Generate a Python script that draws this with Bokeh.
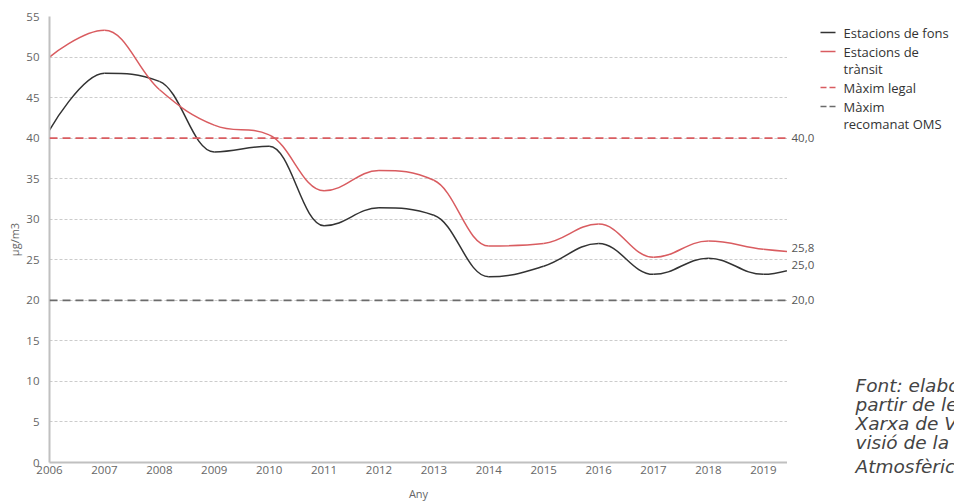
from bokeh.plotting import figure
from bokeh.layouts import row
from bokeh.models import Range1d, FixedTicker, Span, CustomJSTickFormatter, ColumnDataSource
from bokeh.core.properties import value
from bokeh.embed import file_html
from bokeh.resources import INLINE

# ---------------- data ----------------
years = [2006, 2007, 2008, 2009, 2010, 2011, 2012, 2013, 2014, 2015, 2016, 2017, 2018, 2019, 2020]
fons = [41.0, 48.0, 47.0, 38.3, 39.0, 29.2, 31.4, 30.5, 22.9, 24.2, 27.0, 23.2, 25.2, 23.2, 25.0]
transit = [50.0, 53.3, 46.0, 41.6, 40.4, 33.5, 36.0, 34.8, 26.7, 27.0, 29.4, 25.3, 27.3, 26.3, 25.8]
x_ticks = list(range(2006, 2020))
y_ticks = [0, 5, 10, 15, 20, 25, 30, 35, 40, 45, 50, 55]
max_legal = 40.0
max_oms = 20.0
legend_lines = ["Estacions de fons", "Estacions de", "trànsit", "Màxim legal", "Màxim", "recomanat OMS"]
source_lines = ["Font: elaboració pròpia a", "partir de les dades de la",
                "Xarxa de Vigilància i Pre-", "visió de la Contaminació", "Atmosfèrica"]

X_MIN, X_MAX = 2006, 2019.44
Y_MIN, Y_MAX = 0, 55
FONT = "Open Sans"
BLACK = "#333333"
RED = "#d95c60"
DGRAY = "#6b6b6b"
GRAY_TXT = "#666666"

W_MAIN, W_SIDE, H = 787, 167, 504
B_LEFT, B_TOP, B_BOTTOM = 49, 16, 42


def spline_segments(xs, ys, smoothing=1.5):
    """Highcharts-style spline: control points for cubic Bezier segments."""
    n = len(xs)
    left = [(xs[i], ys[i]) for i in range(n)]
    right = [(xs[i], ys[i]) for i in range(n)]
    denom = smoothing + 1
    for i in range(1, n - 1):
        lx, ly = xs[i - 1], ys[i - 1]
        nx, ny = xs[i + 1], ys[i + 1]
        x, y = xs[i], ys[i]
        lcx = (smoothing * x + lx) / denom
        lcy = (smoothing * y + ly) / denom
        rcx = (smoothing * x + nx) / denom
        rcy = (smoothing * y + ny) / denom
        if rcx != lcx:
            corr = ((rcy - lcy) * (rcx - x)) / (rcx - lcx) + y - rcy
            lcy += corr
            rcy += corr
        if lcy > ly and lcy > y:
            lcy = max(ly, y)
            rcy = 2 * y - lcy
        elif lcy < ly and lcy < y:
            lcy = min(ly, y)
            rcy = 2 * y - lcy
        if rcy > ny and rcy > y:
            rcy = max(ny, y)
            lcy = 2 * y - rcy
        elif rcy < ny and rcy < y:
            rcy = min(ny, y)
            lcy = 2 * y - rcy
        left[i] = (lcx, lcy)
        right[i] = (rcx, rcy)
    seg = dict(x0=[], y0=[], x1=[], y1=[], cx0=[], cy0=[], cx1=[], cy1=[])
    for i in range(1, n):
        seg["x0"].append(xs[i - 1]); seg["y0"].append(ys[i - 1])
        seg["x1"].append(xs[i]); seg["y1"].append(ys[i])
        seg["cx0"].append(right[i - 1][0]); seg["cy0"].append(right[i - 1][1])
        seg["cx1"].append(left[i][0]); seg["cy1"].append(left[i][1])
    return seg


# ---------------- main chart ----------------
p = figure(width=W_MAIN, height=H, output_backend="svg", toolbar_location=None,
           x_range=Range1d(X_MIN, X_MAX), y_range=Range1d(Y_MIN, Y_MAX),
           min_border_left=B_LEFT, min_border_right=0, min_border_top=B_TOP,
           min_border_bottom=B_BOTTOM)
p.outline_line_color = None
p.border_fill_color = "white"

for ax in (p.xaxis[0], p.yaxis[0]):
    ax.axis_line_color = "#c0c0c0"
    ax.axis_line_width = 2
    ax.major_tick_line_color = None
    ax.minor_tick_line_color = None
    ax.major_label_text_font = FONT
    ax.major_label_text_font_size = "11.5px"
    ax.major_label_text_color = GRAY_TXT
    ax.axis_label_text_font = FONT
    ax.axis_label_text_font_size = "11px"
    ax.axis_label_text_font_style = "normal"
    ax.axis_label_text_color = GRAY_TXT

p.xaxis.ticker = FixedTicker(ticks=x_ticks)
p.xaxis.formatter = CustomJSTickFormatter(code="return String(tick);")
p.xaxis.major_label_standoff = -3
p.xaxis.axis_label = "Any"
p.xaxis.axis_label_standoff = 9

p.yaxis.ticker = FixedTicker(ticks=y_ticks)
p.yaxis.major_label_standoff = 4
p.yaxis.axis_label = "µg/m3"
p.yaxis.axis_label_standoff = 1

p.xgrid.grid_line_color = None
p.ygrid.grid_line_color = "#cccccc"
p.ygrid.grid_line_dash = "3 2"

p.add_layout(Span(location=max_legal, dimension="width", line_color=RED,
                  line_dash="8 5", line_width=1.8))
p.add_layout(Span(location=max_oms, dimension="width", line_color=DGRAY,
                  line_dash="8 5", line_width=1.8))

sf = spline_segments(years, fons)
st = spline_segments(years, transit)
p.bezier(source=sf, x0="x0", y0="y0", x1="x1", y1="y1", cx0="cx0", cy0="cy0",
         cx1="cx1", cy1="cy1", line_color=BLACK, line_width=1.5)
p.bezier(source=st, x0="x0", y0="y0", x1="x1", y1="y1", cx0="cx0", cy0="cy0",
         cx1="cx1", cy1="cy1", line_color=RED, line_width=1.5)

# ---------------- side panel (labels, legend, source) ----------------
px_per_unit = (H - B_TOP - B_BOTTOM) / (Y_MAX - Y_MIN)
s = figure(width=W_SIDE, height=H, output_backend="svg", toolbar_location=None,
           x_range=Range1d(0, W_SIDE),
           y_range=Range1d(Y_MIN - B_BOTTOM / px_per_unit, Y_MAX),
           min_border_left=0, min_border_right=0, min_border_top=B_TOP, min_border_bottom=0)
try:
    s.frame_align = False
except Exception:
    pass
s.extra_y_ranges = {"px": Range1d(H, B_TOP)}
s.axis.visible = False
s.grid.visible = False
s.outline_line_color = None
s.border_fill_color = "white"

# value labels
vals = [max_legal, transit[-1], fons[-1], max_oms]
vsrc = ColumnDataSource(dict(x=[4] * 4, y=vals,
                             t=[f"{v:.1f}".replace(".", ",") for v in vals],
                             off=[0, -5, 5, 0]))
s.text(x="x", y="y", text="t", y_offset="off", source=vsrc, text_baseline="middle",
       text_align="left", text_font=value(FONT), text_font_size="11.5px", text_color="#555555")

# legend
leg_y = [32, 51, 68, 87, 106, 123]
s.text(x=[56] * 6, y=leg_y, text=legend_lines, y_range_name="px", text_baseline="middle",
       text_align="left", text_font=value(FONT), text_font_size="13px", text_color=BLACK)
s.segment(x0=[33], y0=[leg_y[0]], x1=[48], y1=[leg_y[0]], y_range_name="px",
          line_color=BLACK, line_width=1.5)
s.segment(x0=[33], y0=[leg_y[1]], x1=[48], y1=[leg_y[1]], y_range_name="px",
          line_color=RED, line_width=1.5)
s.segment(x0=[33], y0=[leg_y[3]], x1=[48], y1=[leg_y[3]], y_range_name="px",
          line_color=RED, line_width=1.5, line_dash="6 3")
s.segment(x0=[33], y0=[leg_y[4]], x1=[48], y1=[leg_y[4]], y_range_name="px",
          line_color=DGRAY, line_width=1.5, line_dash="6 3")

# source note
src_y = [385, 404, 423, 442, 466]
s.text(x=[68] * 5, y=src_y, text=source_lines, y_range_name="px", text_baseline="middle",
       text_align="left", text_font=value("DejaVu Sans"), text_font_size="18.5px",
       text_font_style="italic", text_color="#444444")

layout = row(p, s, spacing=0)
open("out.html", "w").write(file_html(layout, INLINE))
